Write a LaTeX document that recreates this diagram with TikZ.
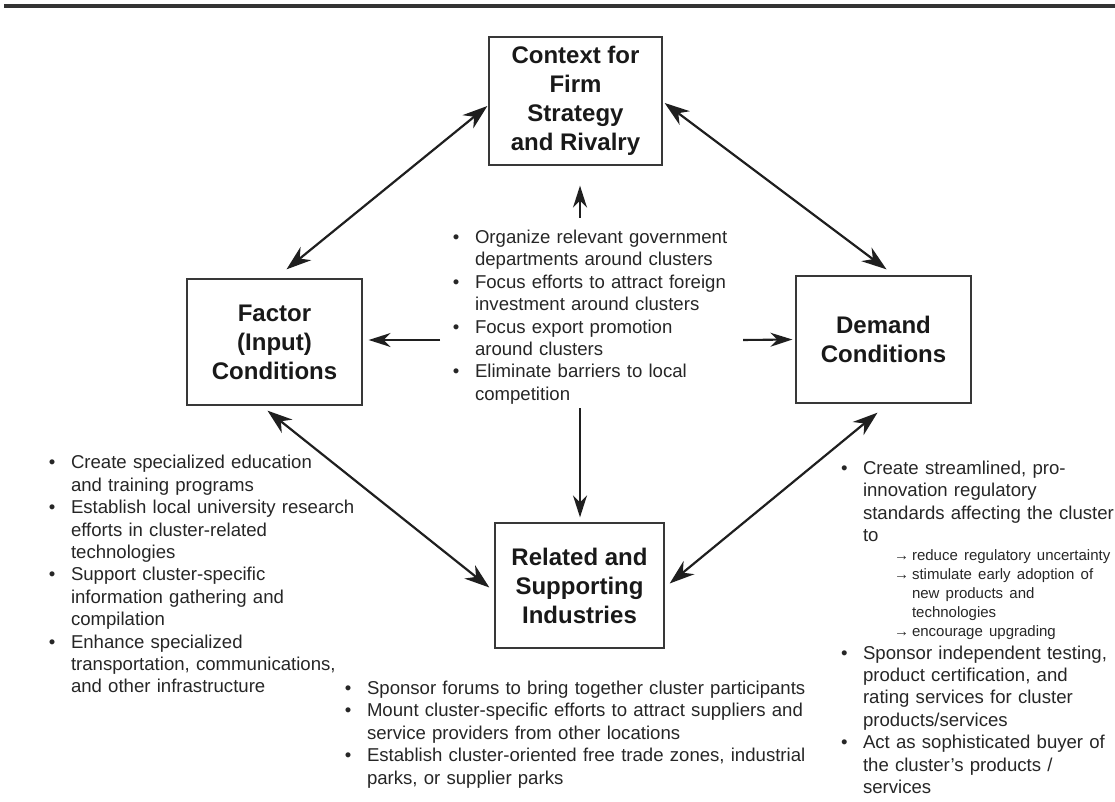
\documentclass[tikz,border=0pt]{standalone}
\usepackage{fontspec}
\setmainfont{Liberation Sans}
\usepackage{enumitem}
\usepackage{tikz}
\usetikzlibrary{arrows.meta,calc}
\setlist[itemize]{nosep, leftmargin=19pt, labelsep=15.5pt, label=\textbullet}
\tikzset{
  forcebox/.style={draw=black!78, line width=1.3pt, inner sep=0pt, align=center,
                   text=black!90, font=\fontsize{24}{29}\selectfont\bfseries},
  pairarr/.style={{Stealth[length=25pt,width=17pt,inset=8pt]}-{Stealth[length=25pt,width=17pt,inset=8pt]},
                  draw=black!88, line width=2.2pt},
  pusharr/.style={-{Stealth[length=22pt,width=14pt,inset=7pt]}, draw=black!88, line width=2.1pt},
  notelist/.style={anchor=north west, inner sep=0pt, outer sep=0pt, text=black!85,
                   font=\fontsize{18.6}{22.4}\selectfont},
}
\begin{document}
\begin{tikzpicture}[x=1pt,y=-1pt]
\useasboundingbox (0,0) rectangle (1115,802);
\draw[line width=4pt, black!80] (4,6) -- (1115,6);
% diamond of the four boxes
\node[forcebox, minimum width=173pt, minimum height=128pt] (rivalry) at (575.5,101)
  {Context for\\Firm\\Strategy\\and Rivalry};
\node[forcebox, minimum width=175pt, minimum height=126pt] (factor) at (274.5,342)
  {Factor\\(Input)\\Conditions};
\node[forcebox, minimum width=175pt, minimum height=127pt] (demand) at (883.5,339.5)
  {Demand\\Conditions};
\node[forcebox, minimum width=169pt, minimum height=125pt] (related) at (579.5,585.5)
  {Related and\\Supporting\\Industries};
% policy lists
\node[notelist, text width=290pt] (govlist) at (456,221) {%
\begin{itemize}
\item Organize relevant government\\departments around clusters
\item Focus efforts to attract foreign\\investment around clusters
\item Focus export promotion\\around clusters
\item Eliminate barriers to local\\competition
\end{itemize}};
\node[notelist, text width=320pt] (factorlist) at (52,446.5) {%
\begin{itemize}
\item Create specialized education\\and training programs
\item Establish local university research\\efforts in cluster-related\\technologies
\item Support cluster-specific\\information gathering and\\compilation
\item Enhance specialized\\transportation, communications,\\and other infrastructure
\end{itemize}};
\node[notelist, text width=460pt] (relatedlist) at (348,672) {%
\begin{itemize}
\item Sponsor forums to bring together cluster participants
\item Mount cluster-specific efforts to attract suppliers and\\service providers from other locations
\item Establish cluster-oriented free trade zones, industrial\\parks, or supplier parks
\end{itemize}};
\node[notelist, text width=285pt] (demandlist) at (844,452) {%
\begin{itemize}
\item Create streamlined, pro-\\innovation regulatory\\standards affecting the cluster\\to\par
  \begin{itemize}[label=→, leftmargin=49pt, labelsep=3pt, before=\fontsize{15}{19}\selectfont]
  \item reduce regulatory uncertainty
  \item stimulate early adoption of\\new products and\\technologies
  \item encourage upgrading
  \end{itemize}
\item Sponsor independent testing,\\product certification, and\\rating services for cluster\\products/services
\item Act as sophisticated buyer of\\the cluster's products /\\services
\end{itemize}};
% arrows
\coordinate (hubW) at (440,340);
\coordinate (hubE) at (743,340);
\coordinate (hubN) at (580,218);
\coordinate (hubS) at (580,408);
\draw[pairarr] ($(factor.north)+(12,-9)$) -- ($(rivalry.west)+(-1,5)$);
\draw[pairarr] ($(rivalry.east)+(2,2)$) -- ($(demand.north)+(3,-6)$);
\draw[pairarr] ($(factor.south)+(-7,5)$) -- ($(related.west)+(-5,2)$);
\draw[pairarr] ($(related.east)+(5,-2)$) -- ($(demand.south)+(-6,9)$);
\draw[pusharr] (hubW) -- ($(factor.east)+(6,-2)$);
\draw[pusharr] (hubE) -- ($(demand.west)+(-3,0)$);
\draw[pusharr] (hubN) -- ($(rivalry.south)+(4.5,20)$);
\draw[pusharr] (hubS) -- ($(related.north)+(0.5,-5)$);
\end{tikzpicture}
\end{document}
